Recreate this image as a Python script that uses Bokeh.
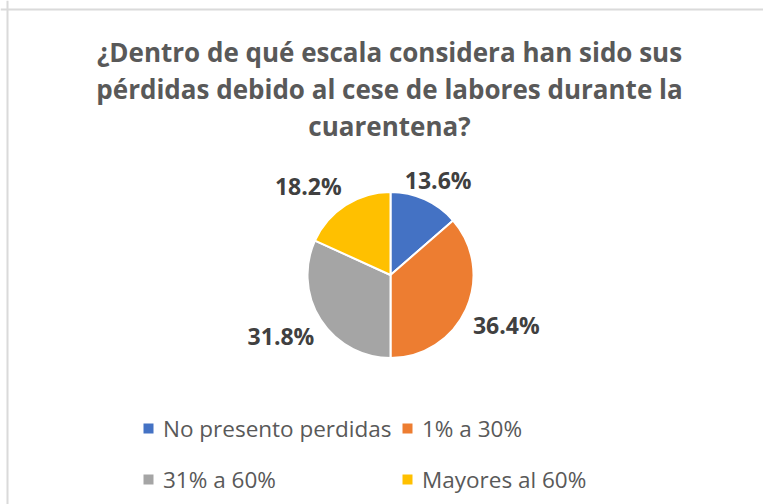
import math
from bokeh.plotting import figure
from bokeh.models import Range1d, Span
from bokeh.core.properties import value
from bokeh.embed import file_html
from bokeh.resources import INLINE

# ---- data ----
title_lines = ["¿Dentro de qué escala considera han sido sus",
               "pérdidas debido al cese de labores durante la",
               "cuarentena?"]
categories = ["No presento perdidas", "1% a 30%", "31% a 60%", "Mayores al 60%"]
percentages = [13.6, 36.4, 31.8, 18.2]
label_texts = ["13.6%", "36.4%", "31.8%", "18.2%"]
colors = ["#4472C4", "#ED7D31", "#A5A5A5", "#FFC000"]

W, H = 763, 504
FONT = "Open Sans"
p = figure(width=W, height=H, output_backend="svg", toolbar_location=None,
           x_range=Range1d(0, W), y_range=Range1d(-H, 0),
           min_border=0)
p.axis.visible = False
p.grid.visible = False
p.outline_line_color = None
p.background_fill_color = "white"
p.border_fill_color = "white"

# chart border (top and left visible)
p.add_layout(Span(location=-9, dimension="width", line_color="#DADADA", line_width=2))
p.add_layout(Span(location=7, dimension="height", line_color="#DADADA", line_width=2))

# title
tx = 389
for i, line in enumerate(title_lines):
    p.text(x=[tx], y=[-(51 + 37 * i)], text=[line], text_align="center",
           text_baseline="middle", text_font=value(FONT),
           text_font_style="bold", text_font_size="26px", text_color="#595959")

# pie
cx, cy, R = 390, -274.5, 83
total = sum(percentages)
starts, ends, mids = [], [], []
acc = 0.0
for v in percentages:
    a0 = math.pi / 2 - acc / total * 2 * math.pi
    acc += v
    a1 = math.pi / 2 - acc / total * 2 * math.pi
    starts.append(a0)
    ends.append(a1)
    mids.append((a0 + a1) / 2)

p.wedge(x=cx, y=cy, radius=R, start_angle=starts, end_angle=ends,
        direction="clock", fill_color=colors, line_color="white", line_width=2)

# data labels outside (text box anchored against a point just outside the rim)
lw, lh, gap = 66, 24, 8
lx, ly = [], []
for m in mids:
    c, s = math.cos(m), math.sin(m)
    px, py = cx + (R + gap) * c, cy + (R + gap) * s
    frac = min(1.0, max(0.0, (abs(c) - 0.36) / 0.18))
    lx.append(px + math.copysign(frac * lw / 2, c))
    ly.append(py + math.copysign(lh / 2, s))
p.text(x=lx, y=ly, text=label_texts, text_align="center", text_baseline="middle",
       text_font=value(FONT), text_font_style="bold", text_font_size="23px",
       text_color="#404040")

# legend (2 columns x 2 rows)
col_x = [148, 407]
row_y = [-428, -479]
mx, my, txs = [], [], []
for i, cat in enumerate(categories):
    mx.append(col_x[i % 2])
    my.append(row_y[i // 2])
    txs.append(col_x[i % 2] + 14.5)
p.rect(x=mx, y=my, width=10, height=10, fill_color=colors, line_color=None)
p.text(x=txs, y=my, text=categories, text_align="left", text_baseline="middle",
       text_font=value(FONT), text_font_size="22.5px", text_color="#595959")

open("out.html", "w").write(file_html(p, INLINE))
